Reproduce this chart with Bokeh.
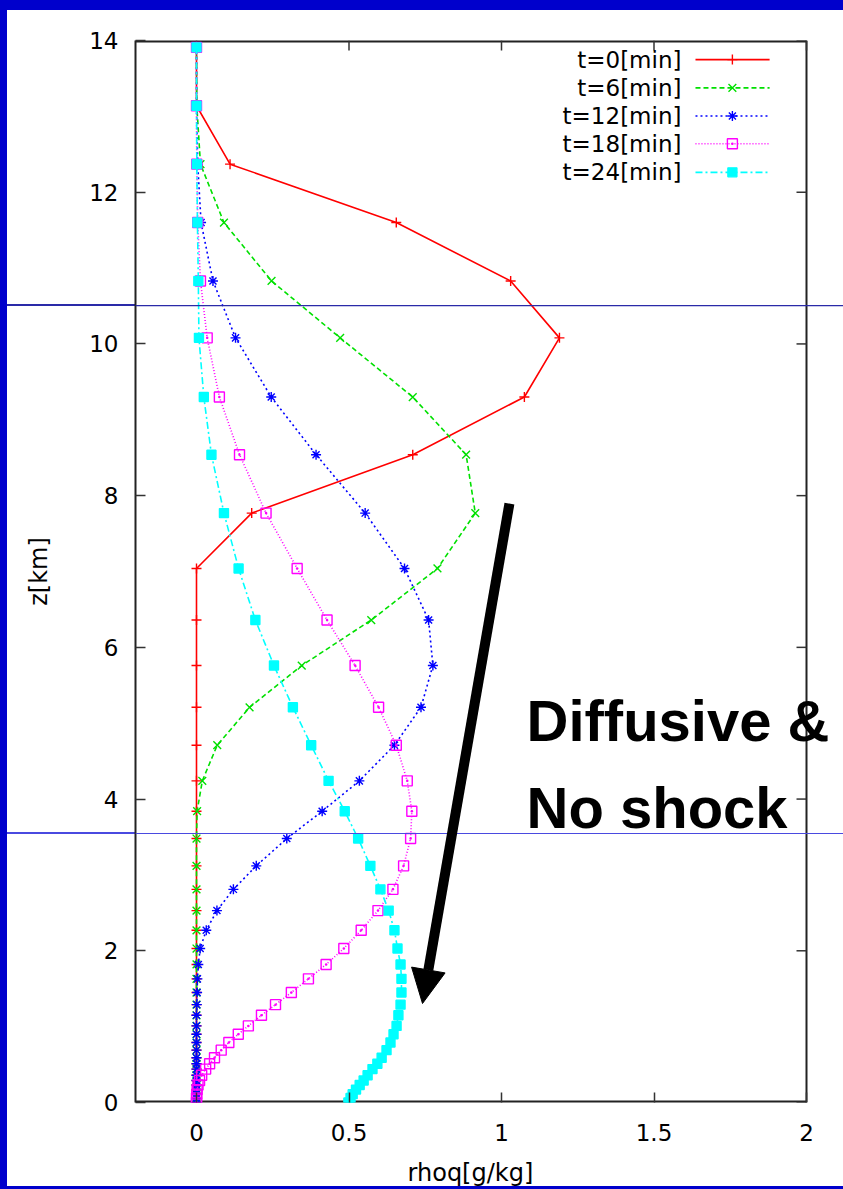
from bokeh.plotting import figure
from bokeh.models import Range1d, FixedTicker, Label, Span, Arrow, NormalHead
from bokeh.embed import file_html
from bokeh.resources import INLINE

# ---------------- data ----------------
z_km = [13.91, 13.14, 12.37, 11.60, 10.83, 10.08, 9.30, 8.54, 7.77, 7.04,
        6.36, 5.76, 5.21, 4.71, 4.24, 3.84, 3.48, 3.12, 2.81, 2.53,
        2.27, 2.03, 1.82, 1.63, 1.45, 1.29, 1.15, 1.01, 0.90, 0.79,
        0.69, 0.59, 0.51, 0.44, 0.36, 0.29, 0.23, 0.17, 0.11, 0.06, 0.0]

rhoq_t0 = [0.0, 0.0, 0.11, 0.655, 1.03, 1.19, 1.075, 0.709, 0.181, 0.0,
           0.0, 0.0, 0.0, 0.0, 0.0, 0.0, 0.0, 0.0, 0.0, 0.0,
           0.0, 0.0, 0.0, 0.0, 0.0, 0.0, 0.0, 0.0, 0.0, 0.0,
           0.0, 0.0, 0.0, 0.0, 0.0, 0.0, 0.0, 0.0, 0.0, 0.0, 0.0]
rhoq_t6 = [0.0, 0.001, 0.013, 0.09, 0.246, 0.471, 0.709, 0.884, 0.914, 0.79,
           0.573, 0.345, 0.174, 0.068, 0.019, 0.002, 0.0, 0.0, 0.0, 0.0,
           0.0, 0.0, 0.0, 0.0, 0.0, 0.0, 0.0, 0.0, 0.0, 0.0,
           0.0, 0.0, 0.0, 0.0, 0.0, 0.0, 0.0, 0.0, 0.0, 0.0, 0.0]
rhoq_t12 = [0.0, 0.0, 0.004, 0.015, 0.054, 0.128, 0.245, 0.392, 0.553, 0.682,
            0.761, 0.775, 0.736, 0.649, 0.534, 0.412, 0.296, 0.196, 0.121, 0.067,
            0.032, 0.012, 0.006, 0.003, 0.002, 0.001, 0.0, 0.0, 0.0, 0.0,
            0.0, 0.0, 0.0, 0.0, 0.0, 0.0, 0.0, 0.0, 0.0, 0.0, 0.0]
rhoq_t18 = [0.0, 0.0, 0.001, 0.004, 0.013, 0.035, 0.075, 0.141, 0.228, 0.33,
            0.428, 0.52, 0.597, 0.655, 0.691, 0.706, 0.702, 0.679, 0.644, 0.595,
            0.54, 0.483, 0.425, 0.367, 0.311, 0.259, 0.213, 0.17, 0.137, 0.106,
            0.081, 0.059, 0.043, 0.03, 0.017, 0.01, 0.005, 0.002, 0.001, 0.0, 0.0]
rhoq_t24 = [0.0, 0.0, 0.001, 0.003, 0.006, 0.008, 0.024, 0.049, 0.09, 0.138,
            0.193, 0.254, 0.316, 0.376, 0.433, 0.486, 0.53, 0.57, 0.603, 0.63,
            0.649, 0.659, 0.669, 0.672, 0.672, 0.669, 0.662, 0.656, 0.646, 0.636,
            0.623, 0.607, 0.593, 0.577, 0.561, 0.548, 0.535, 0.523, 0.512, 0.505, 0.498]

series_labels = ["t=0[min]", "t=6[min]", "t=12[min]", "t=18[min]", "t=24[min]"]
x_ticks = [0, 0.5, 1, 1.5, 2]
x_tick_labels = ["0", "0.5", "1", "1.5", "2"]
y_ticks = [0, 2, 4, 6, 8, 10, 12, 14]
y_tick_labels = ["0", "2", "4", "6", "8", "10", "12", "14"]
x_title = "rhoq[g/kg]"
y_title = "z[km]"
note_lines = ["Diffusive &", "No shock"]

# ---------------- layout / style constants ----------------
X_MIN, X_MAX_BOX, X_MAX_VIEW = -0.2, 2.0, 2.1213   # view extends right of the gnuplot box
Y_MIN, Y_MAX = 0.0, 14.0
OVERLAY_Y = [10.506, 3.546]                        # slide guide lines
OVERLAY_COLORS = ["#2a2aa8", "#4a4ae0"]
colors = ["#ff0000", "#00e000", "#0000ff", "#ff00ff", "#00ffff"]
dashes = ["solid", "5 3", "2 3", "1 2", "7 3 2 3"]
markers = ["cross", "x", "asterisk", "square_dot", "square"]
msizes = [10, 11, 10, 10, 9]
FONT = "DejaVu Sans"
BOX_COLOR = "#222222"
SLIDE_BLUE = "#0000cc"
TICK_DX = 10 / 305.0      # 10 px in x data units
TICK_DY = 10 / 75.857     # 10 px in y data units
# the x title is centred on the gnuplot box, not on the wider view: pad it on the right
X_TITLE_PAD = "\u00a0" * 5

p = figure(width=843, height=1189, x_range=Range1d(X_MIN, X_MAX_VIEW), y_range=Range1d(Y_MIN, Y_MAX),
           output_backend="svg", toolbar_location=None,
           min_border_left=135, min_border_right=0, min_border_top=40, min_border_bottom=87)
p.background_fill_color = "white"
p.border_fill_color = None
p.outline_line_color = None
p.xgrid.visible = False
p.ygrid.visible = False

# slide frame (blue edges) and guide lines continuing through the margins
guide_css = ("linear-gradient(to bottom, transparent 304.4px, {c0} 304.4px, {c0} 305.6px, transparent 305.6px, "
             "transparent 832.4px, {c1} 832.4px, {c1} 833.6px, transparent 833.6px)").format(
    c0=OVERLAY_COLORS[0], c1=OVERLAY_COLORS[1])
p.styles = {
    "vertical-align": "top",
    "overflow": "hidden",
    "background-color": "white",
    "background-image": ", ".join([
        "linear-gradient(to right, {b} 7px, transparent 7px)".format(b=SLIDE_BLUE),
        "linear-gradient(to bottom, {b} 10px, transparent 10px)".format(b=SLIDE_BLUE),
        "linear-gradient(to top, {b} 3px, transparent 3px)".format(b=SLIDE_BLUE),
        guide_css,
    ]),
}

# bottom axis
xa = p.xaxis[0]
xa.ticker = FixedTicker(ticks=x_ticks)
xa.major_label_overrides = dict(zip(x_ticks, x_tick_labels))
xa.major_tick_in = 10
xa.major_tick_out = 0
xa.minor_tick_in = 0
xa.minor_tick_out = 0
xa.major_tick_line_color = "#333333"
xa.major_tick_line_width = 1.5
xa.axis_line_color = None
xa.major_label_text_font = FONT
xa.major_label_text_font_size = "23px"
xa.major_label_text_color = "black"
xa.major_label_standoff = 21
xa.axis_label = x_title + X_TITLE_PAD
xa.axis_label_text_font = FONT
xa.axis_label_text_font_size = "24px"
xa.axis_label_text_font_style = "normal"
xa.axis_label_text_color = "black"
xa.axis_label_standoff = 15

# left axis
ya = p.yaxis[0]
ya.ticker = FixedTicker(ticks=y_ticks)
ya.major_label_overrides = dict(zip(y_ticks, y_tick_labels))
ya.major_tick_in = 10
ya.major_tick_out = 0
ya.major_tick_line_color = "#333333"
ya.major_tick_line_width = 1.5
ya.minor_tick_in = 0
ya.minor_tick_out = 0
ya.axis_line_color = BOX_COLOR
ya.axis_line_width = 2
ya.major_label_text_font = FONT
ya.major_label_text_font_size = "23px"
ya.major_label_text_color = "black"
ya.major_label_standoff = 17
ya.axis_label = y_title
ya.axis_label_text_font = FONT
ya.axis_label_text_font_size = "24px"
ya.axis_label_text_font_style = "normal"
ya.axis_label_text_color = "black"
ya.axis_label_standoff = 33

# slide guide lines inside the view
for yv, c in zip(OVERLAY_Y, OVERLAY_COLORS):
    p.add_layout(Span(location=yv, dimension="width", line_color=c, line_width=1.2))

# gnuplot box: top, bottom and right edges + mirrored ticks
p.segment(x0=[X_MIN, X_MIN], y0=[Y_MIN, Y_MAX], x1=[X_MAX_BOX, X_MAX_BOX], y1=[Y_MIN, Y_MAX],
          line_color=BOX_COLOR, line_width=4)
p.segment(x0=[X_MAX_BOX], y0=[Y_MIN], x1=[X_MAX_BOX], y1=[Y_MAX], line_color=BOX_COLOR, line_width=2)
p.segment(x0=x_ticks, y0=[Y_MAX] * len(x_ticks), x1=x_ticks, y1=[Y_MAX - TICK_DY] * len(x_ticks),
          line_color="#333333", line_width=1.5)
p.segment(x0=[X_MAX_BOX] * len(y_ticks), y0=y_ticks, x1=[X_MAX_BOX - TICK_DX] * len(y_ticks), y1=y_ticks,
          line_color="#333333", line_width=1.5)

# data series
all_series = [rhoq_t0, rhoq_t6, rhoq_t12, rhoq_t18, rhoq_t24]
for vals, c, d, m, s in zip(all_series, colors, dashes, markers, msizes):
    p.line(vals, z_km, line_color=c, line_width=1.6, line_dash=d)
    p.scatter(vals, z_km, marker=m, size=s, line_color=c, fill_color=c if m == "square" else None,
              line_width=1.4)

# legend (gnuplot style: text then sample)
LEG_TEXT_X = 1.59
LEG_LINE_X = [1.636, 1.879]
LEG_MARK_X = 1.757
LEG_ROW_Y = [13.748, 13.375, 13.005, 12.638, 12.262]
for lab, c, d, m, s, ry in zip(series_labels, colors, dashes, markers, msizes, LEG_ROW_Y):
    p.add_layout(Label(x=LEG_TEXT_X, y=ry, text=lab, text_align="right", text_baseline="middle",
                       text_font=FONT, text_font_size="23px", text_color="black"))
    p.line(LEG_LINE_X, [ry, ry], line_color=c, line_width=1.6, line_dash=d)
    p.scatter([LEG_MARK_X], [ry], marker=m, size=s, line_color=c,
              fill_color=c if m == "square" else None, line_width=1.4)

# slide annotation: arrow + text
p.add_layout(Arrow(end=NormalHead(size=34, fill_color="black", line_color="black"),
                   x_start=1.026, y_start=7.896, x_end=0.741, y_end=1.305,
                   line_color="black", line_width=10))
for txt, by in zip(note_lines, [5.036, 3.889]):
    p.add_layout(Label(x=1.082, y=by, text=txt, text_align="left", text_baseline="alphabetic",
                       text_font="Liberation Sans", text_font_style="bold", text_font_size="58px",
                       text_color="black"))

open("out.html", "w").write(file_html(p, INLINE))
